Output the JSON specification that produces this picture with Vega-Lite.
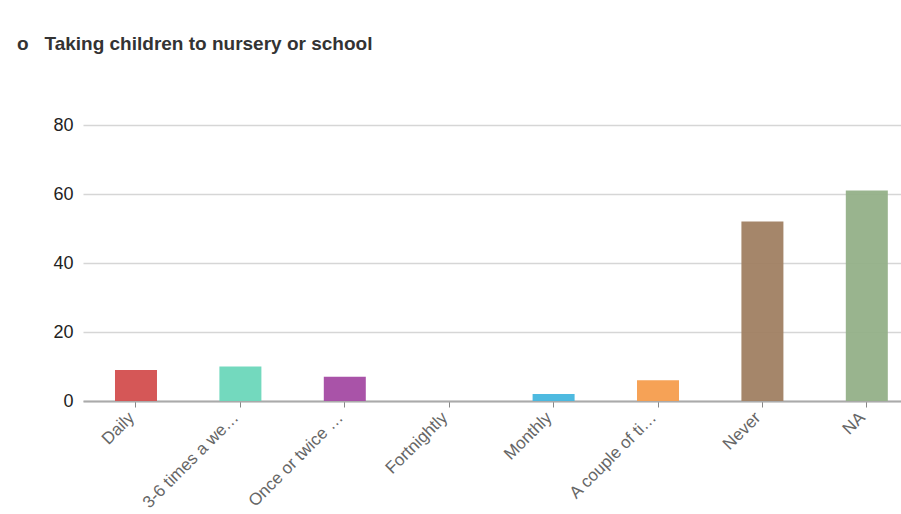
{
  "$schema": "https://vega.github.io/schema/vega-lite/v6.json",
  "width": 818,
  "height": 276,
  "autosize": {"type": "none"},
  "padding": {"left": 83, "top": 125, "right": 0, "bottom": 113},
  "background": "white",
  "title": {
    "text": "o\u00a0\u00a0\u00a0Taking children to nursery or school",
    "anchor": "start",
    "frame": "group",
    "orient": "top",
    "dx": -66,
    "offset": 62,
    "font": "Liberation Sans",
    "fontSize": 19,
    "fontWeight": "bold",
    "color": "#333333"
  },
  "data": {
    "values": [
      {"category": "Daily", "count": 9},
      {"category": "3-6 times a we…", "count": 10},
      {"category": "Once or twice …", "count": 7},
      {"category": "Fortnightly", "count": 0},
      {"category": "Monthly", "count": 2},
      {"category": "A couple of ti…", "count": 6},
      {"category": "Never", "count": 52},
      {"category": "NA", "count": 61}
    ]
  },
  "config": {
    "view": {"stroke": null},
    "font": "Liberation Sans"
  },
  "mark": {"type": "bar", "size": 42, "opacity": 0.95},
  "encoding": {
    "x": {
      "field": "category",
      "type": "nominal",
      "sort": null,
      "scale": {"paddingInner": 0.598, "paddingOuter": 0.2165, "align": 0.708},
      "axis": {
        "title": null,
        "labelAngle": -45,
        "labelFontSize": 17,
        "labelColor": "#666666",
        "labelFont": "Liberation Sans",
        "labelPadding": 2,
        "labelOffset": -10,
        "labelLimit": 250,
        "domainColor": "#aaaaaa",
        "domainWidth": 2,
        "tickColor": "#888888",
        "tickSize": 6,
        "grid": false
      }
    },
    "y": {
      "field": "count",
      "type": "quantitative",
      "scale": {"domain": [0, 80]},
      "axis": {
        "title": null,
        "values": [0, 20, 40, 60, 80],
        "labelFontSize": 18,
        "labelColor": "#222222",
        "labelFont": "Liberation Sans",
        "labelPadding": 10,
        "domain": false,
        "ticks": false,
        "gridColor": "#d6d6d6",
        "gridWidth": 1.5
      }
    },
    "color": {
      "field": "category",
      "type": "nominal",
      "legend": null,
      "scale": {
        "domain": ["Daily", "3-6 times a we…", "Once or twice …", "Fortnightly", "Monthly", "A couple of ti…", "Never", "NA"],
        "range": ["#d34e4e", "#6bd7bb", "#a44aa3", "#888888", "#45b6de", "#f69d4d", "#a07f62", "#94b088"]
      }
    }
  }
}
